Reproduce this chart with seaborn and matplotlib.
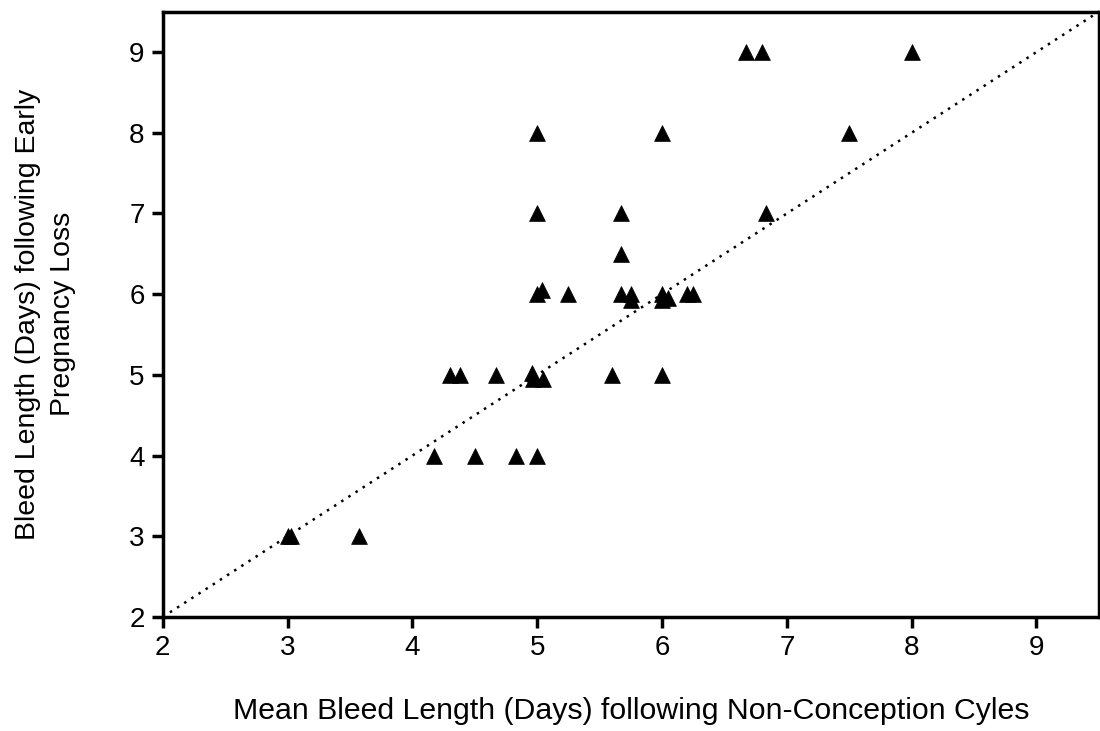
import seaborn as sns
import pandas as pd
import matplotlib.pyplot as plt

# Mean bleed length after non-conception cycles vs bleed length after early pregnancy loss
non_conception = [6.67, 6.8, 8.0,
                  5.0, 6.0, 7.5,
                  5.0, 5.67, 6.83,
                  5.67,
                  5.0, 5.04, 5.25, 5.67, 5.75, 5.75, 6.0, 6.0, 6.05, 6.2, 6.25,
                  4.3, 4.38, 4.67, 4.96, 4.97, 5.05, 5.6, 6.0,
                  4.17, 4.5, 4.83, 5.0,
                  3.0, 3.03, 3.57]
pregnancy_loss = [9, 9, 9,
                  8, 8, 8,
                  7, 7, 7,
                  6.5,
                  6.0, 6.05, 6.0, 6.0, 6.0, 5.93, 6.0, 5.93, 5.95, 6.0, 6.0,
                  5.0, 5.0, 5.0, 5.02, 4.95, 4.95, 5.0, 5.0,
                  4, 4, 4, 4,
                  3, 3, 3]

df = pd.DataFrame({'x': non_conception, 'y': pregnancy_loss})

sns.set_style('ticks')
plt.rcParams['font.family'] = ['Liberation Sans', 'DejaVu Sans']
plt.rcParams['text.color'] = 'black'
plt.rcParams['axes.labelcolor'] = 'black'

fig = plt.figure(figsize=(11, 7.31), dpi=100)
ax = fig.add_axes([0.148, 0.156, 0.851, 0.828])

# line of identity
ax.plot([2, 9.5], [2, 9.5], linestyle=(0, (1, 2.4)), color='black',
        linewidth=1.8, zorder=1)

sns.scatterplot(data=df, x='x', y='y', marker='^', color='black', s=130,
                edgecolor='black', linewidth=0.5, ax=ax, zorder=2)

ax.set_xlim(2, 9.5)
ax.set_ylim(2, 9.5)
ax.set_xticks(range(2, 10))
ax.set_yticks(range(2, 10))
ax.tick_params(axis='both', labelsize=20, length=8, width=2.5, direction='out',
               colors='black', labelcolor='black', pad=5)
for sp in ax.spines.values():
    sp.set_linewidth(2.5)
    sp.set_color('black')

ax.set_xlabel('Mean Bleed Length (Days) following Non-Conception Cyles',
              fontsize=21.8, labelpad=26, color='black')
ax.set_ylabel('Bleed Length (Days) following Early\nPregnancy Loss',
              fontsize=20.5, labelpad=38, linespacing=1.45, color='black')

fig.savefig('out.png', dpi=100)
